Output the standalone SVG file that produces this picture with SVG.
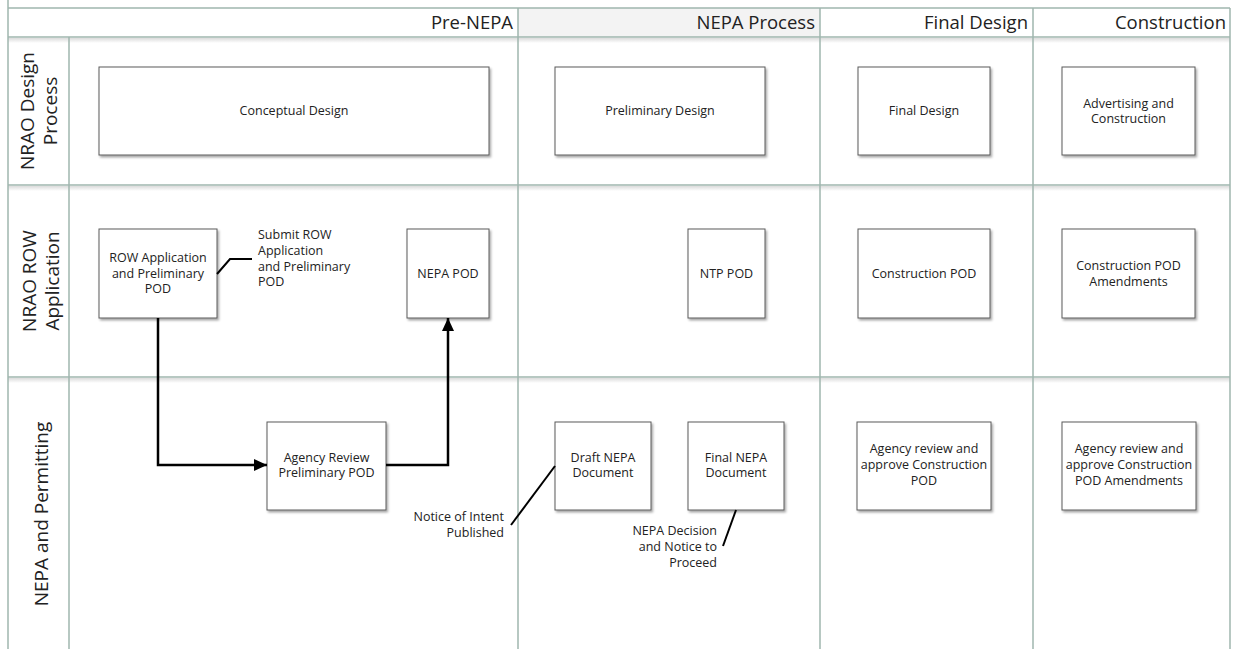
<svg xmlns="http://www.w3.org/2000/svg" width="1233" height="649" viewBox="0 0 1233 649">
<style>
.grid{stroke:#9fb6ae;stroke-width:1.5;fill:none}
.hl{stroke:#9fb6ae;stroke-width:1.5;fill:none}
.box{fill:#fff;stroke:#5a5a5a;stroke-width:1;filter:url(#shadow)}
.t{font-family:"Open Sans","Noto Sans","DejaVu Sans",sans-serif;font-size:12.5px;fill:#222}
.c{text-anchor:middle}
.r{text-anchor:end}
.hdr{font-family:"Open Sans","Noto Sans","DejaVu Sans",sans-serif;font-size:18.5px;fill:#222;text-anchor:end}
.lane{font-family:"Open Sans","Noto Sans","DejaVu Sans",sans-serif;font-size:19px;fill:#222;text-anchor:middle}
.conn{stroke:#000;stroke-width:2.5;fill:none}
.call{stroke:#000;stroke-width:2;fill:none}
</style>
<defs>
<filter id="shadow" x="-10%" y="-10%" width="130%" height="130%">
<feDropShadow dx="1.5" dy="2" stdDeviation="1.2" flood-color="#000" flood-opacity="0.35"/>
</filter>
<linearGradient id="lsh" x1="0" y1="0" x2="0" y2="1">
<stop offset="0" stop-color="#000" stop-opacity="0.14"/>
<stop offset="1" stop-color="#000" stop-opacity="0"/>
</linearGradient>
<marker id="arrow" markerUnits="userSpaceOnUse" markerWidth="14" markerHeight="13" refX="13" refY="6" orient="auto">
<path d="M0,0 L13,6 L0,12 z" fill="#000"/>
</marker>
</defs>
<rect x="0" y="0" width="1233" height="649" fill="#fff"/>
<g id="pool">
<rect x="518" y="8" width="302" height="29" fill="#f3f3f3"/>
<rect x="8" y="38" width="1222" height="5" fill="url(#lsh)"/>
<rect x="8" y="186" width="1222" height="5" fill="url(#lsh)"/>
<rect x="8" y="378" width="1222" height="5" fill="url(#lsh)"/>
<line class="hl" x1="8" y1="37" x2="1230" y2="37"/>
<line class="hl" x1="8" y1="185" x2="1230" y2="185"/>
<line class="hl" x1="8" y1="377" x2="1230" y2="377"/>
<line class="grid" x1="8" y1="8" x2="1230" y2="8"/>
<line class="grid" x1="8" y1="0" x2="8" y2="649"/>
<line class="grid" x1="69" y1="37" x2="69" y2="649"/>
<line class="grid" x1="518" y1="8" x2="518" y2="649"/>
<line class="grid" x1="820" y1="8" x2="820" y2="649"/>
<line class="grid" x1="1033" y1="8" x2="1033" y2="649"/>
<line class="grid" x1="1230" y1="8" x2="1230" y2="649"/>
</g>
<g id="phases">
<text class="hdr" x="513" y="29">Pre-NEPA</text>
<text class="hdr" x="815" y="29">NEPA Process</text>
<text class="hdr" x="1028" y="29">Final Design</text>
<text class="hdr" x="1226" y="29">Construction</text>
</g>
<g id="lanes">
<text class="lane" transform="translate(38,111) rotate(-90)"><tspan x="0" y="-4">NRAO Design</tspan><tspan x="0" y="19">Process</tspan></text>
<text class="lane" transform="translate(40,281) rotate(-90)"><tspan x="0" y="-4">NRAO ROW</tspan><tspan x="0" y="19">Application</tspan></text>
<text class="lane" transform="translate(41,514) rotate(-90)"><tspan x="0" y="7">NEPA and Permitting</tspan></text>
</g>
<g id="conceptual-design">
<rect class="box" x="99" y="67" width="390" height="88"/>
<text class="t c" x="294" y="115">Conceptual Design</text>
</g>
<g id="preliminary-design">
<rect class="box" x="555" y="67" width="210" height="88"/>
<text class="t c" x="660" y="115">Preliminary Design</text>
</g>
<g id="final-design">
<rect class="box" x="858" y="67" width="132" height="88"/>
<text class="t c" x="924" y="115">Final Design</text>
</g>
<g id="advertising-construction">
<rect class="box" x="1062" y="67" width="133" height="88"/>
<text class="t c" x="1128.5" y="108">Advertising and</text>
<text class="t c" x="1128.5" y="123">Construction</text>
</g>
<g id="row-application">
<rect class="box" x="99" y="229" width="118" height="89"/>
<text class="t c" x="158" y="262">ROW Application</text>
<text class="t c" x="158" y="278">and Preliminary</text>
<text class="t c" x="158" y="293">POD</text>
</g>
<g id="nepa-pod">
<rect class="box" x="407" y="229" width="82" height="89"/>
<text class="t c" x="448" y="278">NEPA POD</text>
</g>
<g id="ntp-pod">
<rect class="box" x="688" y="229" width="77" height="89"/>
<text class="t c" x="726.5" y="278">NTP POD</text>
</g>
<g id="construction-pod">
<rect class="box" x="858" y="229" width="132" height="89"/>
<text class="t c" x="924" y="278">Construction POD</text>
</g>
<g id="construction-pod-amendments">
<rect class="box" x="1062" y="229" width="133" height="89"/>
<text class="t c" x="1128.5" y="270">Construction POD</text>
<text class="t c" x="1128.5" y="286">Amendments</text>
</g>
<g id="agency-review-preliminary">
<rect class="box" x="267" y="422" width="119" height="88"/>
<text class="t c" x="326.5" y="462">Agency Review</text>
<text class="t c" x="326.5" y="477">Preliminary POD</text>
</g>
<g id="draft-nepa">
<rect class="box" x="555" y="422" width="96" height="88"/>
<text class="t c" x="603" y="462">Draft NEPA</text>
<text class="t c" x="603" y="477">Document</text>
</g>
<g id="final-nepa">
<rect class="box" x="688" y="422" width="96" height="88"/>
<text class="t c" x="736" y="462">Final NEPA</text>
<text class="t c" x="736" y="477">Document</text>
</g>
<g id="agency-review-construction">
<rect class="box" x="857" y="422" width="134" height="88"/>
<text class="t c" x="924" y="453">Agency review and</text>
<text class="t c" x="924" y="469">approve Construction</text>
<text class="t c" x="924" y="485">POD</text>
</g>
<g id="agency-review-amendments">
<rect class="box" x="1062" y="422" width="134" height="88"/>
<text class="t c" x="1129" y="453">Agency review and</text>
<text class="t c" x="1129" y="469">approve Construction</text>
<text class="t c" x="1129" y="485">POD Amendments</text>
</g>
<g id="connectors">
<polyline class="conn" points="158,318 158,465 267,465" marker-end="url(#arrow)"/>
<polyline class="conn" points="386,465 448,465 448,318" marker-end="url(#arrow)"/>
<polyline class="call" points="217,274 230,259 252,259"/>
<line class="call" x1="511" y1="525" x2="555" y2="466"/>
<line class="call" x1="736" y1="510" x2="723" y2="546"/>
</g>
<g id="annotations">
<text class="t" x="258" y="239">Submit ROW</text>
<text class="t" x="258" y="255">Application</text>
<text class="t" x="258" y="271">and Preliminary</text>
<text class="t" x="258" y="286">POD</text>
<text class="t r" x="504" y="521">Notice of Intent</text>
<text class="t r" x="504" y="537">Published</text>
<text class="t r" x="717" y="535">NEPA Decision</text>
<text class="t r" x="717" y="551">and Notice to</text>
<text class="t r" x="717" y="567">Proceed</text>
</g>
</svg>
